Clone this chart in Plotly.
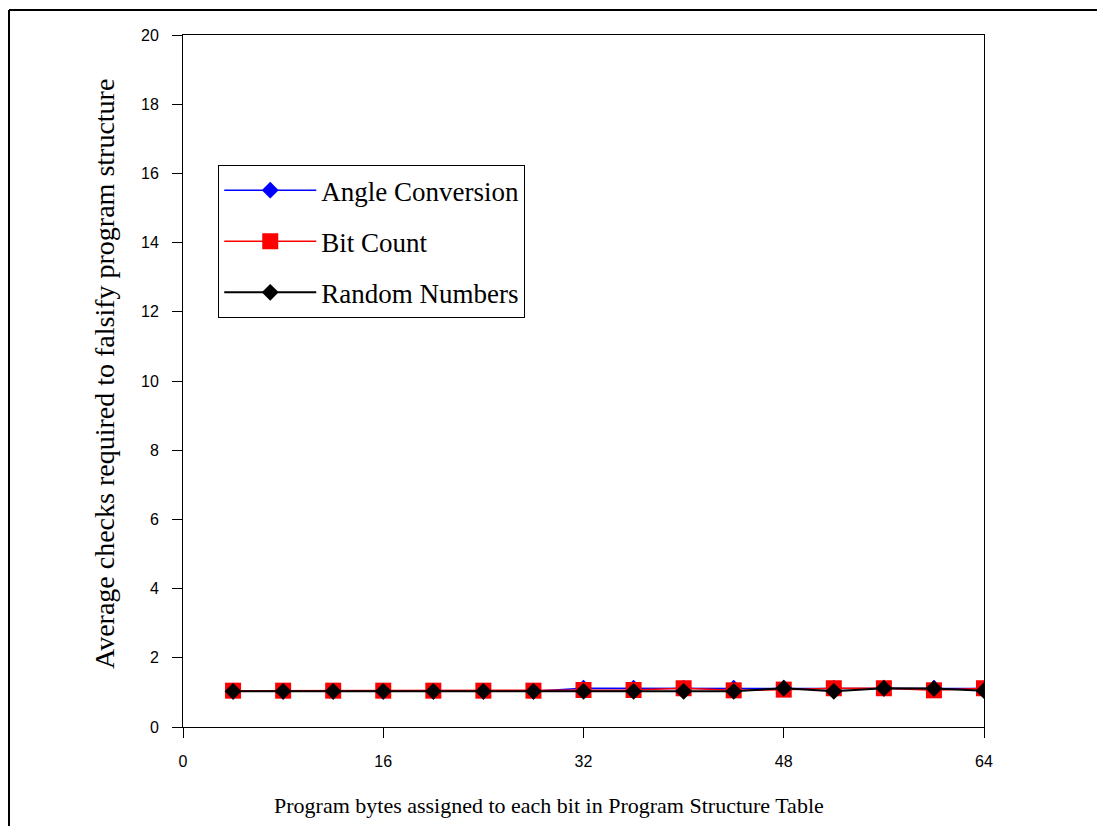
import plotly.graph_objects as go

# Program bytes assigned to each bit
bytes_per_bit = [4, 8, 12, 16, 20, 24, 28, 32, 36, 40, 44, 48, 52, 56, 60, 64]

# Average checks required to falsify program structure
angle_conversion = [1.03, 1.03, 1.03, 1.03, 1.03, 1.03, 1.03,
                    1.12, 1.12, 1.12, 1.12, 1.12, 1.12, 1.12, 1.12, 1.11]
bit_count = [1.05, 1.05, 1.05, 1.05, 1.05, 1.05, 1.05,
             1.07, 1.07, 1.12, 1.06, 1.08, 1.12, 1.12, 1.06, 1.12]
random_numbers = [1.03, 1.03, 1.03, 1.03, 1.03, 1.03, 1.03,
                  1.03, 1.03, 1.03, 1.03, 1.12, 1.03, 1.12, 1.11, 1.05]

x_ticks = [0, 16, 32, 48, 64]
y_ticks = [0, 2, 4, 6, 8, 10, 12, 14, 16, 18, 20]

x_title = "Program bytes assigned to each bit in Program Structure Table"
y_title = "Average checks required to falsify program structure"

fig = go.Figure()

fig.add_trace(go.Scatter(
    x=bytes_per_bit, y=angle_conversion, mode="lines+markers",
    name="Angle Conversion", legendgroup="a",
    line=dict(color="#0000FF", width=1.5),
    marker=dict(symbol="diamond", size=13, color="#0000FF"),
))
fig.add_trace(go.Scatter(
    x=bytes_per_bit, y=bit_count, mode="lines+markers",
    name="Bit Count", legendgroup="b",
    line=dict(color="#FF0000", width=1.5),
    marker=dict(symbol="square", size=16, color="#FF0000"),
))
fig.add_trace(go.Scatter(
    x=bytes_per_bit, y=random_numbers, mode="lines+markers",
    name="Random Numbers", legendgroup="c",
    line=dict(color="#000000", width=2),
    marker=dict(symbol="diamond", size=13, color="#000000"),
))

axis_font = dict(family="Liberation Sans, Arial, sans-serif", size=16, color="#000000")
serif = "Liberation Serif, Times New Roman, serif"

fig.update_layout(
    width=1097, height=826,
    margin=dict(l=183, r=113, t=35, b=99),
    paper_bgcolor="white", plot_bgcolor="white",
    showlegend=True,
    legend=dict(
        x=0.044, y=0.812, xanchor="left", yanchor="top",
        bgcolor="white", bordercolor="#000000", borderwidth=1,
        font=dict(family=serif, size=27, color="#000000"),
        tracegroupgap=13, itemwidth=92,
    ),
    xaxis=dict(
        range=[0, 64], tickvals=x_ticks, ticktext=[str(v) for v in x_ticks],
        showgrid=False, zeroline=False,
        showline=True, linecolor="#000000", linewidth=1, mirror=True,
        ticks="outside", ticklen=10, tickcolor="#000000", tickwidth=1,
        tickfont=axis_font, ticklabelstandoff=10,
    ),
    yaxis=dict(
        range=[0, 20], tickvals=y_ticks, ticktext=[str(v) for v in y_ticks],
        showgrid=False, zeroline=False,
        showline=True, linecolor="#000000", linewidth=1, mirror=True,
        ticks="outside", ticklen=10, tickcolor="#000000", tickwidth=1,
        tickfont=axis_font, ticklabelstandoff=10,
    ),
)

# Axis titles
fig.add_annotation(text=x_title, xref="paper", yref="paper",
                   x=(549 - 183) / 801, y=-(805 - 727) / 692,
                   xanchor="center", yanchor="middle", showarrow=False,
                   font=dict(family=serif, size=22, color="#000000"))
fig.add_annotation(text=y_title, xref="paper", yref="paper",
                   x=-(183 - 104) / 801, y=(727 - 374) / 692,
                   xanchor="center", yanchor="middle", showarrow=False,
                   textangle=-90,
                   font=dict(family=serif, size=28, color="#000000"))

# Outer frame: top and left edges of the figure border
frame_left = -174 / 801
frame_top = 1 + 25 / 692
fig.add_shape(type="line", xref="paper", yref="paper",
              x0=frame_left, y0=frame_top, x1=1.2, y1=frame_top,
              line=dict(color="#000000", width=2))
fig.add_shape(type="line", xref="paper", yref="paper",
              x0=frame_left, y0=frame_top, x1=frame_left, y1=-0.3,
              line=dict(color="#000000", width=2))

fig.write_html("out.html")
